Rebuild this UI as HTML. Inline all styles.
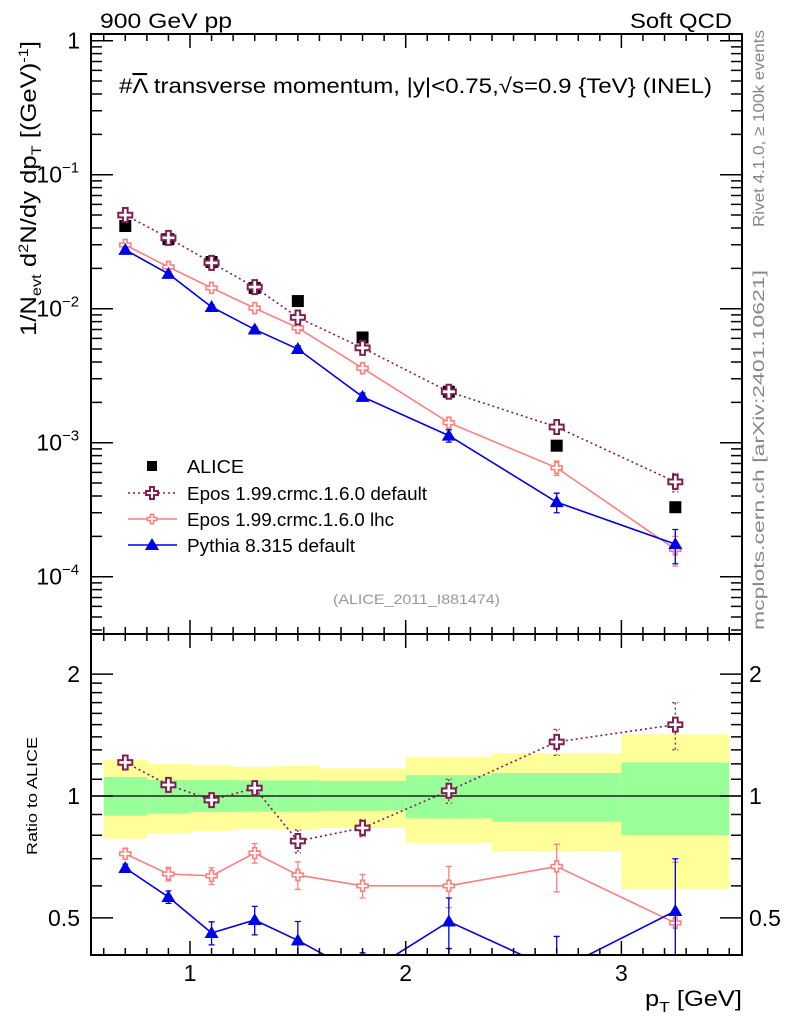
<!DOCTYPE html>
<html><head><meta charset="utf-8">
<style>
html,body{margin:0;padding:0;background:#fff;}
svg{display:block;font-family:"Liberation Sans",sans-serif;}
</style></head>
<body>
<svg id="chart" width="786" height="1024" viewBox="0 0 786 1024" xmlns="http://www.w3.org/2000/svg">
<defs>
<clipPath id="mainClip"><rect x="91" y="34" width="651" height="600"/></clipPath>
<clipPath id="ratioClip"><rect x="91" y="634" width="651" height="321"/></clipPath>
</defs>
<text x="100" y="28" font-size="21" textLength="132" lengthAdjust="spacingAndGlyphs">900 GeV pp</text>
<text x="630" y="28" font-size="21" textLength="102" lengthAdjust="spacingAndGlyphs">Soft QCD</text>
<text x="119" y="93" font-size="21" textLength="593" lengthAdjust="spacingAndGlyphs">#<tspan text-decoration="overline">Λ</tspan> transverse momentum, |y|&lt;0.75,√s=0.9 {TeV} (INEL)</text>
<text transform="translate(764,30) rotate(-90)" font-size="16" fill="#888" text-anchor="end" textLength="197" lengthAdjust="spacingAndGlyphs">Rivet 4.1.0, ≥ 100k events</text>
<text transform="translate(764,630) rotate(-90)" font-size="16" fill="#888" textLength="360" lengthAdjust="spacingAndGlyphs">mcplots.cern.ch [arXiv:2401.10621]</text>
<text x="333" y="604" font-size="14" fill="#999" textLength="167" lengthAdjust="spacingAndGlyphs">(ALICE_2011_I881474)</text>
<text transform="translate(36,336) rotate(-90)" font-size="22" textLength="295" lengthAdjust="spacingAndGlyphs">1/N<tspan font-size="14" dy="5">evt</tspan><tspan dy="-5">  d</tspan><tspan font-size="14" dy="-8">2</tspan><tspan dy="8">N/dy dp</tspan><tspan font-size="14" dy="5">T</tspan><tspan dy="-5"> [(GeV)</tspan><tspan font-size="14" dy="-8">-1</tspan><tspan dy="8">]</tspan></text>
<text transform="translate(37,855) rotate(-90)" font-size="15" textLength="118" lengthAdjust="spacingAndGlyphs">Ratio to ALICE</text>
<text x="645" y="1006" font-size="22" textLength="97" lengthAdjust="spacingAndGlyphs">p<tspan font-size="15" dy="6">T</tspan><tspan dy="-6"> [GeV]</tspan></text>
<g id="bands" clip-path="url(#ratioClip)"></g>
<g id="grid"></g>
<g id="mainMarks" clip-path="url(#mainClip)"></g>
<g id="ratioMarks" clip-path="url(#ratioClip)"></g>
<g id="axes"></g>
<g id="legend"></g>
</svg>
<script>
const xCenters = [0.7, 0.9, 1.1, 1.3, 1.5, 1.8, 2.2, 2.7, 3.25];
const binEdges = [0.6, 0.8, 1.0, 1.2, 1.4, 1.6, 2.0, 2.4, 3.0, 3.5];
const aliceValues = [0.0414, 0.033, 0.0223, 0.0143, 0.0114, 0.0061, 0.0024, 0.00095, 0.00033];
const eposDefValues = [0.05, 0.0338, 0.022, 0.0145, 0.0086, 0.0051, 0.0024, 0.00131, 0.00051];
const eposDefErr = [0.0015, 0.001, 0.0008, 0.0006, 0.0005, 0.0003, 0.0002, 0.0001, 0.00008];
const eposLhcValues = [0.0299, 0.0205, 0.0143, 0.0101, 0.0072, 0.0036, 0.00141, 0.00065, 0.00016];
const eposLhcErr = [0.001, 0.0007, 0.0005, 0.0004, 0.0003, 0.0002, 0.00012, 0.00008, 0.00004];
const pythiaValues = [0.0275, 0.0182, 0.0103, 0.0070, 0.0050, 0.0022, 0.00113, 0.00036, 0.000175];
const pythiaErr = [0.0008, 0.0006, 0.0004, 0.0003, 0.0003, 0.00015, 0.00012, 0.00006, 0.00005];
const ratioEposDef = [1.21, 1.065, 0.977, 1.046, 0.774, 0.834, 1.03, 1.36, 1.5];
const ratioEposDefErr = [0.03, 0.03, 0.03, 0.04, 0.05, 0.04, 0.07, 0.1, 0.2];
const ratioEposLhc = [0.72, 0.642, 0.635, 0.723, 0.638, 0.60, 0.60, 0.67, 0.486];
const ratioEposLhcErr = [0.02, 0.025, 0.03, 0.04, 0.05, 0.04, 0.07, 0.09, 0.2];
const ratioPythia = [0.664, 0.563, 0.459, 0.494, 0.44, 0.36, 0.49, 0.37, 0.52];
const ratioPythiaErr = [0.015, 0.02, 0.03, 0.04, 0.05, 0.05, 0.07, 0.08, 0.18];
const bandYellowHi = [1.227, 1.2, 1.19, 1.18, 1.186, 1.17, 1.25, 1.275, 1.42];
const bandYellowLo = [0.784, 0.81, 0.82, 0.83, 0.825, 0.834, 0.766, 0.73, 0.59];
const bandGreenHi = [1.114, 1.097, 1.095, 1.093, 1.093, 1.09, 1.126, 1.14, 1.21];
const bandGreenLo = [0.894, 0.905, 0.913, 0.915, 0.915, 0.92, 0.88, 0.864, 0.80];
const mainTickExps = [0, -1, -2, -3, -4];
const mainTickLabels = ["1", "10", "10", "10", "10"];
const mainTickSups = ["", "−1", "−2", "−3", "−4"];
const ratioTickValues = [0.5, 1, 2];
const ratioTickLabels = ["0.5", "1", "2"];
const xTickValues = [1, 2, 3];
const xTickLabels = ["1", "2", "3"];

const NS = "http://www.w3.org/2000/svg";
const L = 91, R = 742, T = 34, M = 634, B = 955;
const xs = v => 190 + (v - 1) * 215.7;
const ym = v => 40.7 - Math.log10(v) * 134;
const yr = v => 796 - Math.log10(v) * 405;
function mk(tag, attrs, parent) {
  const e = document.createElementNS(NS, tag);
  for (const k in attrs) e.setAttribute(k, attrs[k]);
  parent.appendChild(e);
  return e;
}
const gBands = document.getElementById('bands');
const gMain = document.getElementById('mainMarks');
const gRatio = document.getElementById('ratioMarks');
const gAxes = document.getElementById('axes');
const gLeg = document.getElementById('legend');

for (let i = 0; i < xCenters.length; i++) {
  const x0 = xs(binEdges[i]), x1 = xs(binEdges[i + 1]);
  const yb = mk('rect', {x: x0, y: yr(bandYellowHi[i]), width: x1 - x0, height: yr(bandYellowLo[i]) - yr(bandYellowHi[i]), fill: '#ffff99'}, gBands);
  
  
  const gb = mk('rect', {x: x0, y: yr(bandGreenHi[i]), width: x1 - x0, height: yr(bandGreenLo[i]) - yr(bandGreenHi[i]), fill: '#99ff99'}, gBands);
  
  
}
const unity = mk('line', {x1: L, x2: R, y1: yr(1), y2: yr(1), stroke: '#000', 'stroke-width': 1.2}, gBands);



function cross(g, x, y, s, color, sw) {
  const a = s / 3;
  const d = `M${x-a},${y-s}h${2*a}v${2*a}h${2*a}v${2*a}h${-2*a}v${2*a}h${-2*a}v${-2*a}h${-2*a}v${-2*a}h${2*a}z`;
  return mk('path', {d: d, fill: '#fff', stroke: color, 'stroke-width': sw}, g);
}
function drawSeries(g, vals, errs, yf, style, name) {
  const pts = xCenters.map((x, i) => xs(x) + ',' + yf(vals[i])).join(' ');
  const pl = mk('polyline', {points: pts, fill: 'none', stroke: style.color, 'stroke-width': style.lw, 'stroke-dasharray': style.dash || ''}, g);
  
  
  for (let i = 0; i < xCenters.length; i++) {
    const x = xs(xCenters[i]), y = yf(vals[i]);
    if (errs) {
      const y1 = yf(vals[i] + errs[i]), y2 = yf(Math.max(vals[i] - errs[i], 1e-9));
      const eb = mk('path', {d: `M${x},${y1}V${y2}M${x-3},${y1}h6M${x-3},${y2}h6`, stroke: style.color, 'stroke-width': 1.3, fill: 'none', 'stroke-dasharray': style.dash || ''}, g);
      
      
    }
    let m;
    if (style.m === 'tri') m = mk('path', {d: `M${x},${y-7}L${x+7},${y+5}L${x-7},${y+5}z`, fill: style.color}, g);
    else m = cross(g, x, y, style.size, style.color, style.sw);
    
    
  }
}
const stDef = {color: '#7f1f4f', lw: 1.6, dash: '2,3', m: 'cross', size: 7, sw: 2};
const stLhc = {color: '#ff7f7f', lw: 1.6, m: 'cross', size: 5.5, sw: 1.6};
const stPy = {color: '#0000e6', lw: 1.6, m: 'tri'};

for (let i = 0; i < xCenters.length; i++) {
  const x = xs(xCenters[i]), y = ym(aliceValues[i]);
  const sq = mk('rect', {x: x - 6, y: y - 6, width: 12, height: 12, fill: '#000'}, gMain);
  
  
}
drawSeries(gMain, eposLhcValues, eposLhcErr, ym, stLhc, 'epos-lhc');
drawSeries(gMain, pythiaValues, pythiaErr, ym, stPy, 'pythia');
drawSeries(gMain, eposDefValues, eposDefErr, ym, stDef, 'epos-default');
drawSeries(gRatio, ratioEposLhc, ratioEposLhcErr, yr, stLhc, 'epos-lhc-ratio');
drawSeries(gRatio, ratioPythia, ratioPythiaErr, yr, stPy, 'pythia-ratio');
drawSeries(gRatio, ratioEposDef, ratioEposDefErr, yr, stDef, 'epos-default-ratio');

const f1 = mk('rect', {x: L, y: T, width: R - L, height: M - T, fill: 'none', stroke: '#000', 'stroke-width': 2}, gAxes);


const f2 = mk('rect', {x: L, y: M, width: R - L, height: B - M, fill: 'none', stroke: '#000', 'stroke-width': 2}, gAxes);



let tickPath = '';
for (let v = 0.6; v <= 3.51; v += 0.1) {
  const x = xs(v);
  const major = Math.abs(v - Math.round(v)) < 0.01;
  const len = major ? 14 : 7;
  tickPath += `M${x},${T}v${len}M${x},${M}v${-len}M${x},${M}v${len}M${x},${B}v${-len}`;
}
for (let e = -5; e <= 0; e++) {
  for (let k = 1; k <= 9; k++) {
    const v = k * Math.pow(10, e);
    const y = ym(v);
    if (y < T || y > M) continue;
    const len = k === 1 ? 22 : 11;
    tickPath += `M${L},${y}h${len}M${R},${y}h${-len}`;
  }
}
const rt = [0.4, 0.5, 0.6, 0.7, 0.8, 0.9, 1, 1.1, 1.2, 1.3, 1.4, 1.5, 1.6, 1.7, 1.8, 1.9, 2, 3];
rt.forEach(v => {
  const y = yr(v);
  if (y < M || y > B) return;
  const len = (v === 0.5 || v === 1 || v === 2) ? 22 : 11;
  tickPath += `M${L},${y}h${len}M${R},${y}h${-len}`;
});
const ticks = mk('path', {d: tickPath, stroke: '#000', 'stroke-width': 1.5, fill: 'none'}, gAxes);



mainTickExps.forEach((e, i) => {
  const t = mk('text', {x: mainTickSups[i] ? 62 : 80, y: ym(Math.pow(10, e)) + 8, 'font-size': 23, 'text-anchor': 'end'}, gAxes);
  t.textContent = mainTickLabels[i];
  if (mainTickSups[i]) {
    const s = mk('tspan', {'font-size': 15, dy: -10, x: 62}, t);
    s.textContent = mainTickSups[i];
    s.setAttribute('text-anchor', 'start');
  }
  
  
});
ratioTickValues.forEach((v, i) => {
  const y = yr(v) + 8;
  const t1 = mk('text', {x: 80, y: y, 'font-size': 23, 'text-anchor': 'end'}, gAxes);
  t1.textContent = ratioTickLabels[i];
  
  
  const t2 = mk('text', {x: 749, y: y, 'font-size': 23}, gAxes);
  t2.textContent = ratioTickLabels[i];
  
  
});
xTickValues.forEach((v, i) => {
  const t = mk('text', {x: xs(v), y: 981, 'font-size': 23, 'text-anchor': 'middle'}, gAxes);
  t.textContent = xTickLabels[i];
  
  
});

const legNames = ['ALICE', 'Epos 1.99.crmc.1.6.0 default', 'Epos 1.99.crmc.1.6.0 lhc', 'Pythia 8.315 default'];
const legLens = [57, 240, 207, 168];
const legStyles = [null, stDef, stLhc, stPy];
const legY = [466, 493, 519, 545];
legNames.forEach((n, i) => {
  const g = mk('g', {}, gLeg);
  
  
  const y = legY[i], cx = 152;
  const st = legStyles[i];
  if (!st) mk('rect', {x: cx - 5, y: y - 5, width: 10, height: 10, fill: '#000'}, g);
  else {
    mk('line', {x1: 128, x2: 177, y1: y, y2: y, stroke: st.color, 'stroke-width': 1.5, 'stroke-dasharray': st.dash || ''}, g);
    if (st.m === 'tri') mk('path', {d: `M${cx},${y-7}L${cx+7},${y+5}L${cx-7},${y+5}z`, fill: st.color}, g);
    else cross(g, cx, y, st.size * 0.85, st.color, st.sw);
  }
  const t = mk('text', {x: 187, y: y + 7, 'font-size': 18, textLength: legLens[i], lengthAdjust: 'spacingAndGlyphs'}, g);
  t.textContent = n;
});
</script>
</body></html>
